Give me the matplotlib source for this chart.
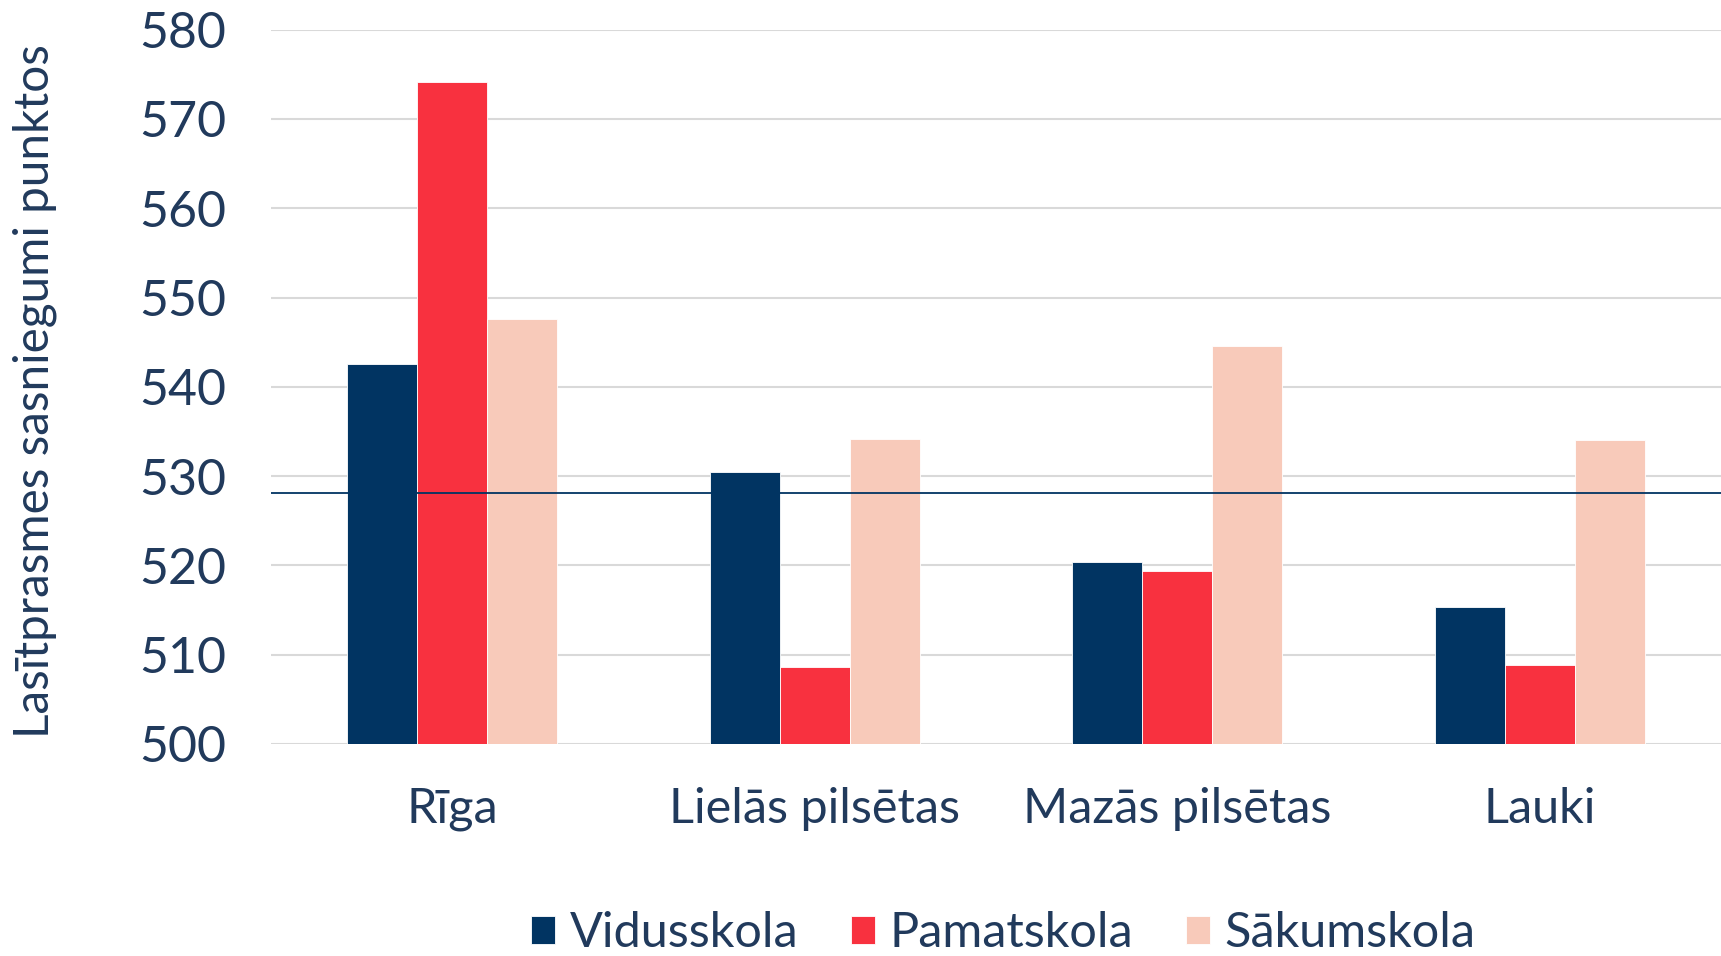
import matplotlib
matplotlib.use("Agg")
import matplotlib.pyplot as plt
import numpy as np

categories = ["Rīga", "Lielās pilsētas", "Mazās pilsētas", "Lauki"]
series_names = ["Vidusskola", "Pamatskola", "Sākumskola"]
vidusskola = [542.5, 530.5, 520.4, 515.3]
pamatskola = [574.1, 508.6, 519.4, 508.8]
sakumskola = [547.6, 534.2, 544.6, 534.0]
average = 528.1
yticks = [500, 510, 520, 530, 540, 550, 560, 570, 580]

colors = ["#013462", "#F8313F", "#F8CABA"]
text_color = "#213A5C"

plt.rcParams['font.family'] = ['Lato', 'DejaVu Sans']

fig = plt.figure(figsize=(17.21, 9.56), dpi=100)
# axes box in pixels: left 271, top 29.6, bottom 744
ax = fig.add_axes([271 / 1721, 1 - 744 / 956, 1 - 271 / 1721, (744 - 29.6) / 956])

x = np.arange(len(categories))
width = 0.193
for i, (vals, name) in enumerate(zip([vidusskola, pamatskola, sakumskola], series_names)):
    ax.bar(x + (i - 1) * width, np.array(vals) - 500, width, bottom=500,
           color=colors[i], label=name, edgecolor="white", linewidth=0.6, zorder=2)

ax.axhline(average, color="#013462", linewidth=1.3, zorder=3)

ax.set_xlim(-0.5, 3.5)
ax.set_ylim(500, 580)
ax.set_yticks(yticks)
ax.set_xticks(x)
ax.set_xticklabels(categories, fontsize=35)
ax.yaxis.grid(True, color="#d9d9d9", linewidth=1.5, zorder=0)
ax.set_axisbelow(True)
for s in ax.spines.values():
    s.set_visible(False)
ax.tick_params(axis="both", length=0, colors=text_color)
ax.tick_params(axis="y", pad=32, labelsize=36)
ax.tick_params(axis="x", pad=31)

fig.text(35 / 1721, 1 - 391 / 956, "Lasītprasmes sasniegumi punktos", rotation=90,
         ha="center", va="center", fontsize=34.3, color=text_color)

leg = fig.legend(loc="center", bbox_to_anchor=(1003 / 1721, 1 - 933 / 956), ncol=3, frameon=False,
                 fontsize=35, handlelength=0.5, handleheight=0.5, handletextpad=0.3,
                 columnspacing=1.08)
for t in leg.get_texts():
    t.set_color(text_color)

fig.savefig("out.png", dpi=100)
